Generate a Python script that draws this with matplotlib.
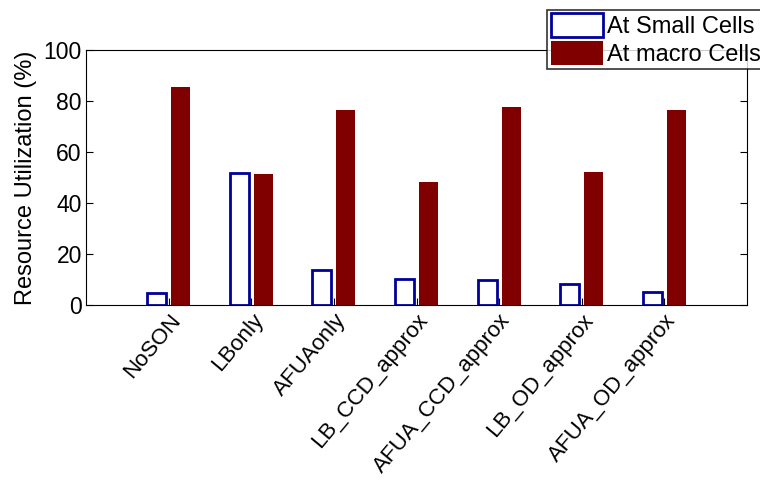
import numpy as np
import matplotlib
matplotlib.use('Agg')
from matplotlib import pyplot as plt
from matplotlib.transforms import ScaledTranslation

categories = ['NoSON', 'LBonly', 'AFUAonly', 'LB_CCD_approx',
              'AFUA_CCD_approx', 'LB_OD_approx', 'AFUA_OD_approx']
small_cells = [4.7, 51.6, 13.6, 10.3, 9.8, 8.2, 5.0]
macro_cells = [85.5, 51.4, 76.5, 48.2, 77.6, 52.2, 76.5]

plt.rcParams['font.family'] = ['Liberation Sans', 'DejaVu Sans']

fig = plt.figure(figsize=(7.6, 4.8), dpi=100)
ax = fig.add_axes([0.1132, 0.3646, 0.8697, 0.5312])

x = np.arange(1, len(categories) + 1)
w = 0.23
ax.bar(x - 0.145, small_cells, w, facecolor='white', edgecolor='#00009a',
       linewidth=2, label='At Small Cells')
ax.bar(x + 0.145, macro_cells, w, color='#800000', label='At macro Cells')

ax.set_xlim(0, 8)
ax.set_ylim(0, 100)
ax.set_xticks(x)
ax.set_xticklabels(categories, rotation=50, ha='right', rotation_mode='anchor', fontsize=16)
shift = ScaledTranslation(12 / 100, -2 / 100, fig.dpi_scale_trans)
for lbl in ax.get_xticklabels():
    lbl.set_transform(lbl.get_transform() + shift)
ax.set_yticks([0, 20, 40, 60, 80, 100])
ax.tick_params(axis='y', labelsize=16.5, direction='in', right=True, length=5, pad=3)
ax.tick_params(axis='x', direction='in', length=5)
ax.set_ylabel('Resource Utilization (%)', fontsize=17, labelpad=5)

leg = fig.legend(loc='upper left', bbox_to_anchor=(0.72, 0.98), fontsize=17,
                 frameon=True, fancybox=False, edgecolor='black',
                 handlelength=2.2, handleheight=1.2, handletextpad=0.2,
                 borderpad=0.15, labelspacing=0.1, borderaxespad=0)
leg.get_frame().set_linewidth(1.2)

fig.savefig('out.png', dpi=100)
